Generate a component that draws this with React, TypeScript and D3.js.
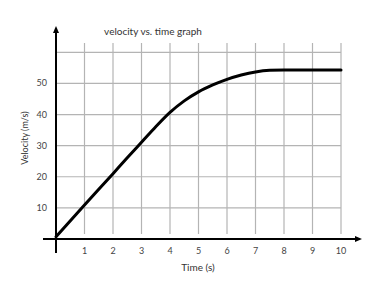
import React from "react";
import * as d3 from "d3";

const timeTicks = [1, 2, 3, 4, 5, 6, 7, 8, 9, 10];
const velTicks = [10, 20, 30, 40, 50];
const gridX = [1, 2, 3, 4, 5, 6, 7, 8, 9, 10];
const gridY = [10, 20, 30, 40, 50, 60];
const times = [0, 1, 2, 2.5, 3, 3.5, 4, 4.5, 5, 5.5, 6, 6.5, 7, 7.5, 8, 9, 10];
const velocities = [0.7, 10.9, 21, 26.1, 31.1, 36.1, 40.7, 44.4, 47.3, 49.5, 51.3, 52.7, 53.7, 54.2, 54.3, 54.3, 54.3];

export default function App() {
  const W = 371, H = 282;
  const x = d3.scaleLinear().domain([0, 10]).range([56, 341]);
  const y = d3.scaleLinear().domain([0, 60]).range([239, 52.3]);
  const line = d3
    .line<number>()
    .x((_, i) => x(times[i]))
    .y((d) => y(d))
    .curve(d3.curveMonotoneX);
  const font = "Lato, 'Open Sans', sans-serif";
  return (
    <svg width={W} height={H} style={{ position: "absolute", left: 0, top: 0, background: "#fff" }}>
      {gridX.map((t) => (
        <line key={"gx" + t} x1={x(t)} x2={x(t)} y1={43} y2={234} stroke="#b4b4b4" strokeWidth={1.2} />
      ))}
      {gridY.map((v) => (
        <line key={"gy" + v} x1={x(0)} x2={x(10)} y1={y(v)} y2={y(v)} stroke="#b4b4b4" strokeWidth={1.2} />
      ))}
      <line x1={43} x2={356} y1={y(0)} y2={y(0)} stroke="#000" strokeWidth={2} />
      <path d={`M${362},${y(0)} L${355},${y(0) - 3} L${355},${y(0) + 3} Z`} fill="#000" />
      <line x1={x(0)} x2={x(0)} y1={253} y2={32} stroke="#000" strokeWidth={2} />
      <path d={`M${x(0)},26 L${x(0) - 3},33 L${x(0) + 3},33 Z`} fill="#000" />
      <path d={line(velocities) || ""} fill="none" stroke="#000" strokeWidth={3} strokeLinecap="round" />
      {timeTicks.map((t) => (
        <text key={"tx" + t} x={x(t)} y={253.5} fontSize={9} fill="#444" textAnchor="middle" fontFamily={font}>
          {t}
        </text>
      ))}
      {velTicks.map((v) => (
        <text key={"ty" + v} x={47} y={y(v) + 3} fontSize={9} fill="#444" textAnchor="end" fontFamily={font}>
          {v}
        </text>
      ))}
      <text x={153} y={35} fontSize={10} fill="#333" textAnchor="middle" fontFamily={font}>
        velocity vs. time graph
      </text>
      <text x={198} y={271} fontSize={10} fill="#333" textAnchor="middle" fontFamily={font}>
        Time (s)
      </text>
      <text
        transform={`translate(28,138) rotate(-90)`}
        fontSize={9}
        fill="#333"
        textAnchor="middle"
        fontFamily={font}
      >
        Velocity (m/s)
      </text>
    </svg>
  );
}
